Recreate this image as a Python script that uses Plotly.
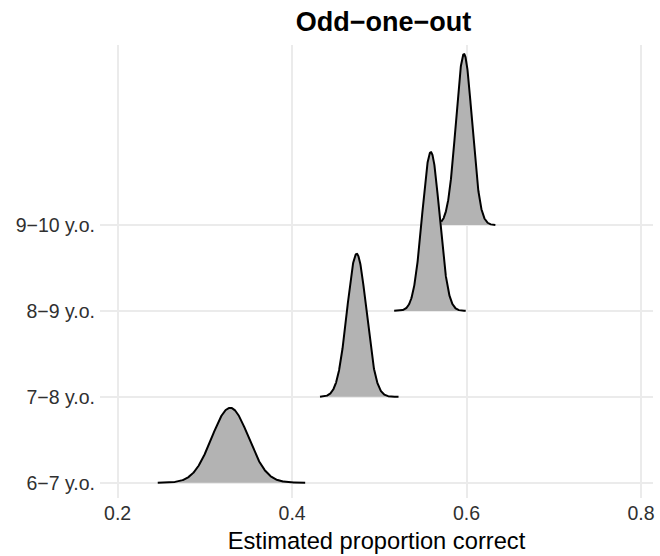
import numpy as np
import plotly.graph_objects as go

# Age groups (bottom to top) and the posterior summaries of each ridge
groups = ["6\u22127 y.o.", "7\u22128 y.o.", "8\u22129 y.o.", "9\u221210 y.o."]
centers = [0.329, 0.474, 0.559, 0.597]
spreads = [0.021, 0.011, 0.0099, 0.0092]
lows = [0.246, 0.432, 0.517, 0.571]
highs = [0.415, 0.522, 0.599, 0.633]

x_ticks = [0.2, 0.4, 0.6, 0.8]
x_tick_text = ["0.2", "0.4", "0.6", "0.8"]

RIDGE_SCALE = 1.99  # tallest ridge height, in units of row spacing
FILL = "#B3B3B3"
GRID = "#EBEBEB"
FONT = "Liberation Sans, Arial, sans-serif"
TICK_COLOR = "#303030"


def density(x, mu, sd):
    return np.exp(-0.5 * ((x - mu) / sd) ** 2) / (sd * np.sqrt(2 * np.pi))


peak = max(density(m, m, s) for m, s in zip(centers, spreads))
k = RIDGE_SCALE / peak

fig = go.Figure()

# draw the top ridge first so lower ridges overlap it
for i in reversed(range(len(groups))):
    base = i + 1
    xs = np.linspace(lows[i], highs[i], 400)
    ys = base + k * density(xs, centers[i], spreads[i])
    fig.add_trace(go.Scatter(
        x=np.concatenate([xs, xs[::-1]]),
        y=np.concatenate([ys, np.full_like(xs, base)]),
        fill="toself", fillcolor=FILL, mode="lines",
        line=dict(width=0), hoverinfo="skip", showlegend=False,
    ))
    fig.add_trace(go.Scatter(
        x=xs, y=ys, mode="lines",
        line=dict(color="black", width=2.0),
        hoverinfo="skip", showlegend=False,
    ))

fig.update_layout(
    width=660, height=556,
    margin=dict(l=100, r=5, t=45, b=58),
    paper_bgcolor="white", plot_bgcolor="white",
    font=dict(family=FONT, color=TICK_COLOR, size=20),
    title=dict(
        text="<b>Odd\u2212one\u2212out</b>",
        x=383.5 / 660, xanchor="center",
        y=1 - 22 / 556, yanchor="middle",
        font=dict(size=27, color="black", family=FONT),
    ),
    showlegend=False,
)

fig.update_xaxes(
    range=[0.1798, 0.8137],
    tickvals=x_ticks, ticktext=x_tick_text,
    showgrid=True, gridcolor=GRID, gridwidth=1.5,
    zeroline=False, showline=False, ticks="",
    tickfont=dict(size=19.5, color=TICK_COLOR, family=FONT),
    ticklabelstandoff=1,
    title=dict(text="Estimated proportion correct",
               font=dict(size=23.7, color="black", family=FONT), standoff=9),
)

fig.update_yaxes(
    range=[0.822, 6.095],
    tickvals=[1, 2, 3, 4], ticktext=groups,
    showgrid=True, gridcolor=GRID, gridwidth=1.5,
    zeroline=False, showline=False, ticks="",
    tickfont=dict(size=19.5, color=TICK_COLOR, family=FONT),
    ticklabelstandoff=4,
)

fig.write_html("out.html")
